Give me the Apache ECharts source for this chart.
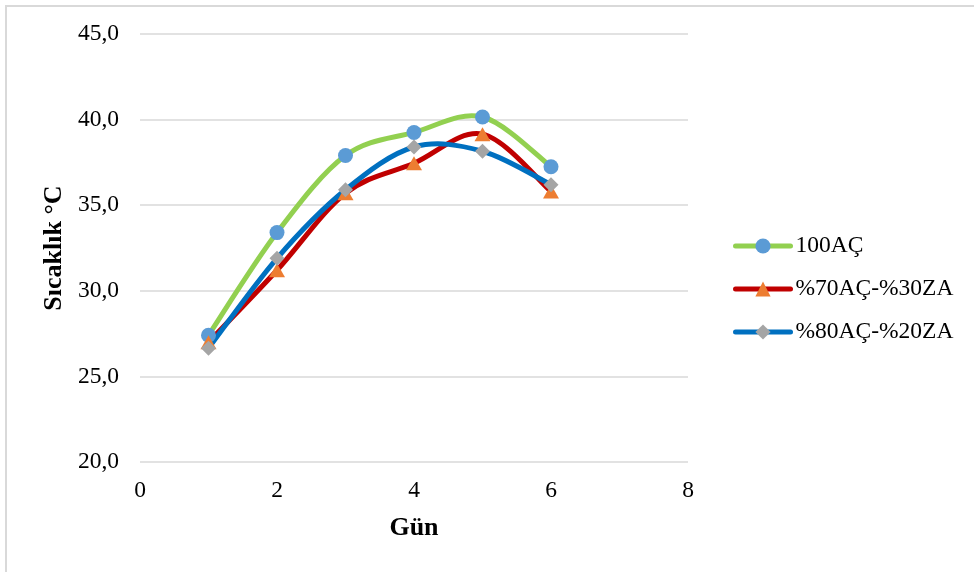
<!DOCTYPE html>
<html>
<head>
<meta charset="utf-8">
<script src="https://cdn.jsdelivr.net/npm/echarts@6/dist/echarts.min.js"></script>
<style>
html,body{margin:0;padding:0;background:#fff;}
#chart{width:974px;height:572px;}
</style>
</head>
<body>
<div id="chart"></div>
<script>
var days = [1, 2, 3, 4, 5, 6];
var seriesNames = ['100AÇ', '%70AÇ-%30ZA', '%80AÇ-%20ZA'];
var s100AC = [27.4, 33.4, 37.9, 39.25, 40.15, 37.25];
var s70AC30ZA = [27.0, 31.2, 35.7, 37.45, 39.15, 35.8];
var s80AC20ZA = [26.65, 31.9, 35.9, 38.4, 38.15, 36.2];
var xTicks = [0, 2, 4, 6, 8];
var yTicks = [20, 25, 30, 35, 40, 45];

var lineColors = ['#92D050', '#C00000', '#0070C0'];
var markerColors = ['#5B9BD5', '#ED7D31', '#A5A5A5'];
var markerShapes = ['circle', 'triangle', 'diamond'];
var markerSizes = [15, [16, 14], 15];
var allValues = [s100AC, s70AC30ZA, s80AC20ZA];

function pairs(v) { return days.map(function (d, i) { return [d, v[i]]; }); }

var FONT = "'Liberation Serif', 'Times New Roman', serif";
var chart = echarts.init(document.getElementById('chart'), null, {renderer: 'canvas'});

// Smooth curve (Catmull-Rom style, like spreadsheet smoothing) drawn through the axis scales
function curveSeries(idx) {
  var vals = allValues[idx];
  return {
    type: 'custom', name: seriesNames[idx] + ' curve', z: 2, silent: true,
    coordinateSystem: 'cartesian2d',
    data: pairs(vals),
    renderItem: function (params, api) {
      var i = params.dataIndex;
      var n = days.length;
      if (i >= n - 1) return null;
      var P = function (k) { k = Math.max(0, Math.min(n - 1, k)); return api.coord([days[k], vals[k]]); };
      var p0 = P(i - 1), p1 = P(i), p2 = P(i + 1), p3 = P(i + 2);
      return {
        type: 'bezierCurve',
        shape: {
          x1: p1[0], y1: p1[1], x2: p2[0], y2: p2[1],
          cpx1: p1[0] + (p2[0] - p0[0]) / 6, cpy1: p1[1] + (p2[1] - p0[1]) / 6,
          cpx2: p2[0] - (p3[0] - p1[0]) / 6, cpy2: p2[1] - (p3[1] - p1[1]) / 6
        },
        style: {stroke: lineColors[idx], lineWidth: 5, fill: null, lineCap: 'round'}
      };
    }
  };
}

function markerSeries(idx) {
  return {
    name: seriesNames[idx], type: 'line', data: pairs(allValues[idx]),
    symbol: markerShapes[idx], symbolSize: markerSizes[idx], showSymbol: true, z: 3 + idx,
    lineStyle: {color: lineColors[idx], width: 5, opacity: 0},
    itemStyle: {color: markerColors[idx], borderWidth: 0},
    emphasis: {disabled: true}
  };
}

chart.setOption({
  animation: false,
  backgroundColor: '#fff',
  textStyle: {fontFamily: FONT},
  graphic: [
    {type: 'line', shape: {x1: 6, y1: 5, x2: 6, y2: 572}, style: {stroke: '#d9d9d9', lineWidth: 2}},
    {type: 'line', shape: {x1: 5, y1: 6, x2: 974, y2: 6}, style: {stroke: '#d9d9d9', lineWidth: 2}}
  ],
  grid: {left: 140, right: 286, top: 34, bottom: 110, containLabel: false},
  legend: {
    orient: 'vertical', left: 728, top: 229,
    itemWidth: 55, itemHeight: 19, itemGap: 19,
    textStyle: {fontFamily: FONT, fontSize: 23.5, color: '#000'},
    data: seriesNames.map(function (nm, i) {
      return {name: nm, lineStyle: {color: lineColors[i], width: 5, opacity: 1, cap: 'round'}};
    })
  },
  xAxis: {
    type: 'value', min: xTicks[0], max: xTicks[xTicks.length - 1], interval: 2,
    name: 'Gün', nameLocation: 'middle', nameGap: 53,
    nameTextStyle: {fontFamily: FONT, fontSize: 26, fontWeight: 'bold', color: '#000'},
    axisLine: {show: false}, axisTick: {show: false}, splitLine: {show: false},
    axisLabel: {fontFamily: FONT, fontSize: 23.5, color: '#000', margin: 17}
  },
  yAxis: {
    type: 'value', min: yTicks[0], max: yTicks[yTicks.length - 1], interval: 5,
    name: 'Sıcaklık °C', nameLocation: 'middle', nameGap: 72, nameRotate: 90,
    nameTextStyle: {fontFamily: FONT, fontSize: 26, fontWeight: 'bold', color: '#000'},
    axisLine: {show: false}, axisTick: {show: false},
    splitLine: {lineStyle: {color: '#d9d9d9', width: 1.5}},
    axisLabel: {fontFamily: FONT, fontSize: 23.5, color: '#000', margin: 21,
      formatter: function (v) { return v.toFixed(1).replace('.', ','); }}
  },
  series: [
    curveSeries(0), curveSeries(1), curveSeries(2),
    markerSeries(0), markerSeries(1), markerSeries(2)
  ]
});
</script>
</body>
</html>
